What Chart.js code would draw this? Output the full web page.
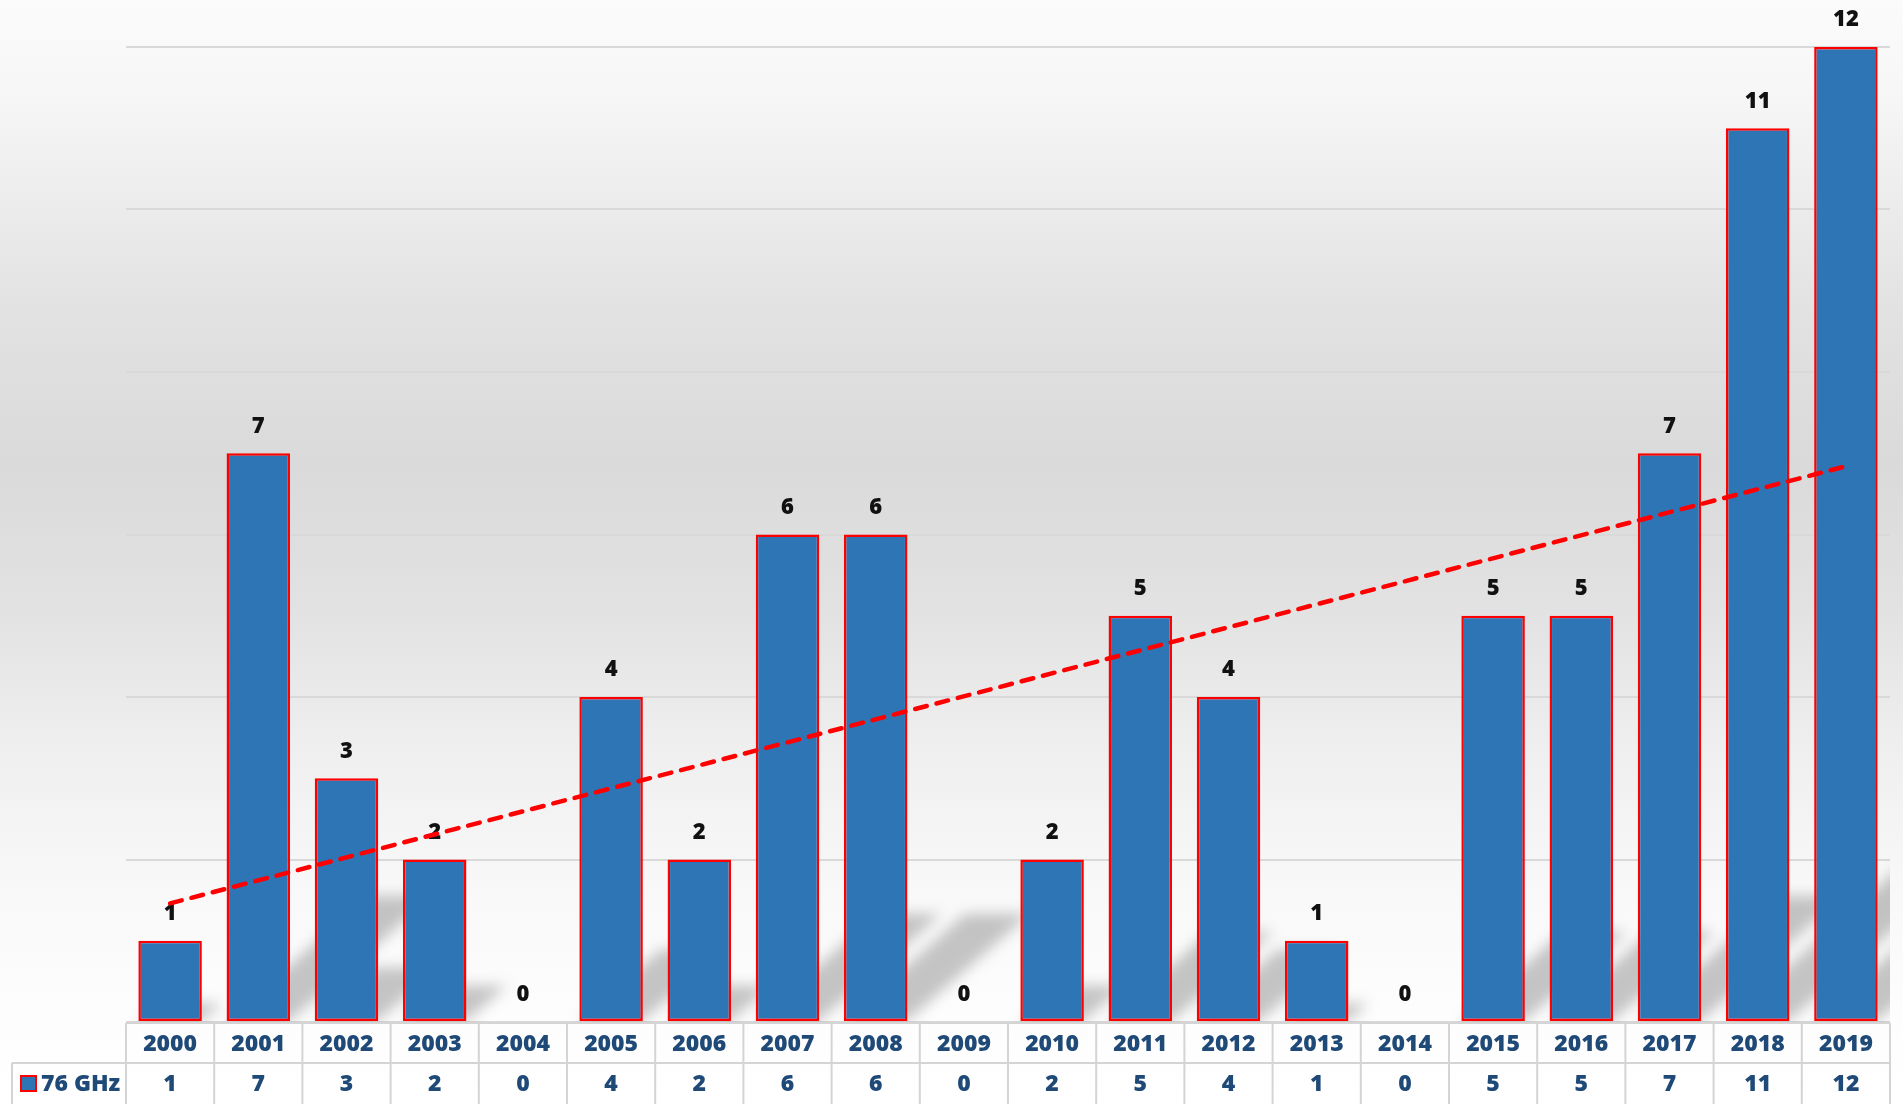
<!DOCTYPE html>
<html>
<head>
<meta charset="utf-8">
<script src="https://cdn.jsdelivr.net/npm/chart.js@4.4.1/dist/chart.umd.min.js"></script>
<style>
  html, body { margin: 0; padding: 0; background: #ffffff; overflow: hidden; }
  #wrap { width: 1903px; height: 1104px; position: relative; }
</style>
</head>
<body>
<div id="wrap"><canvas id="c" width="1903" height="1104"></canvas></div>
<script>
// ---- Data ----
const categories = ['2000','2001','2002','2003','2004','2005','2006','2007','2008','2009',
                    '2010','2011','2012','2013','2014','2015','2016','2017','2018','2019'];
const values76GHz = [1, 7, 3, 2, 0, 4, 2, 6, 6, 0, 2, 5, 4, 1, 0, 5, 5, 7, 11, 12];
const seriesName = '76 GHz';
// linear trend line: value read at the first and at the last category
const trendEnds = [1.46, 6.84];
const yMin = 0, yMax = 12, yStep = 2;

const FONT = '"Open Sans", "Liberation Sans", Arial, sans-serif';
const TABLE_COLOR = '#1F4A78';
const GRID_COLOR = '#d9d9d9';

const trendData = categories.map((c, i) =>
  i === 0 ? trendEnds[0] : (i === categories.length - 1 ? trendEnds[1] : null));

const bgPlugin = {
  id: 'bg',
  beforeDraw(chart) {
    const ctx = chart.ctx, h = chart.height, w = chart.width;
    const g = ctx.createLinearGradient(0, 0, 0, h);
    g.addColorStop(0.00, '#fbfbfb');
    g.addColorStop(0.08, '#f7f7f7');
    g.addColorStop(0.28, '#e2e2e2');
    g.addColorStop(0.42, '#dadada');
    g.addColorStop(0.55, '#e2e2e2');
    g.addColorStop(0.68, '#efefef');
    g.addColorStop(0.80, '#f8f8f8');
    g.addColorStop(0.92, '#fdfdfd');
    g.addColorStop(1.00, '#ffffff');
    ctx.save();
    ctx.fillStyle = g;
    ctx.fillRect(0, 0, w, h);
    ctx.restore();
  }
};

const shadowPlugin = {
  id: 'barShadow',
  beforeDatasetsDraw(chart) {
    const meta = chart.getDatasetMeta(1);
    if (!meta) return;
    const ctx = chart.ctx, area = chart.chartArea;
    ctx.save();
    ctx.beginPath();
    ctx.rect(area.left, 0, area.right - area.left, area.bottom);
    ctx.clip();
    ctx.filter = 'blur(7px)';
    ctx.fillStyle = 'rgba(0,0,0,0.22)';
    meta.data.forEach(el => {
      const p = el.getProps(['x', 'y', 'base', 'width'], true);
      const hgt = p.base - p.y;
      if (hgt <= 0) return;
      const x0 = p.x - p.width / 2, x1 = p.x + p.width / 2;
      const dx = hgt * 0.25, dy = hgt * 0.22;
      ctx.beginPath();
      ctx.moveTo(x0, p.base);
      ctx.lineTo(x1, p.base);
      ctx.lineTo(x1 + dx, p.base - dy);
      ctx.lineTo(x0 + dx, p.base - dy);
      ctx.closePath();
      ctx.fill();
    });
    ctx.restore();
  }
};

const labelPlugin = {
  id: 'barLabels',
  afterDatasetDraw(chart, args) {
    if (args.index !== 1) return;
    const ctx = chart.ctx;
    const meta = chart.getDatasetMeta(1);
    ctx.save();
    ctx.font = '800 22px ' + FONT;
    ctx.fillStyle = '#111111';
    ctx.textAlign = 'center';
    ctx.textBaseline = 'middle';
    meta.data.forEach((el, i) => {
      const p = el.getProps(['x', 'y'], true);
      ctx.fillText(String(values76GHz[i]), p.x, p.y - 27);
    });
    ctx.restore();
  }
};

const tablePlugin = {
  id: 'dataTable',
  afterDraw(chart) {
    const ctx = chart.ctx, xs = chart.scales.x, area = chart.chartArea;
    const n = categories.length;
    const cw = (area.right - area.left) / n;
    const top = area.bottom + 1;
    const mid = top + 40;
    const bot = chart.height + 5;
    const legendLeft = 12;
    ctx.save();
    ctx.strokeStyle = '#d4d4d4';
    ctx.lineWidth = 2;
    ctx.beginPath();
    ctx.moveTo(area.left, top); ctx.lineTo(area.right, top);
    ctx.moveTo(legendLeft, mid); ctx.lineTo(area.right, mid);
    for (let i = 0; i <= n; i++) {
      const x = area.left + i * cw;
      ctx.moveTo(x, top); ctx.lineTo(x, bot);
    }
    ctx.moveTo(legendLeft, mid); ctx.lineTo(legendLeft, bot);
    ctx.stroke();

    ctx.font = '800 23px ' + FONT;
    ctx.fillStyle = TABLE_COLOR;
    ctx.textAlign = 'center';
    ctx.textBaseline = 'middle';
    categories.forEach((c, i) => {
      const x = xs.getPixelForValue(i);
      ctx.fillText(c, x, top + 21);
      ctx.fillText(String(values76GHz[i]), x, mid + 21);
    });
    // legend key
    ctx.fillStyle = '#2E75B6';
    ctx.strokeStyle = '#FF0000';
    ctx.lineWidth = 2;
    ctx.fillRect(21, mid + 13, 15, 15);
    ctx.strokeRect(21, mid + 13, 15, 15);
    ctx.fillStyle = TABLE_COLOR;
    ctx.textAlign = 'left';
    ctx.fillText(seriesName, 41, mid + 21);
    ctx.restore();
  }
};

new Chart(document.getElementById('c'), {
  data: {
    labels: categories,
    datasets: [
      {
        type: 'line',
        label: 'Linear (' + seriesName + ')',
        data: trendData,
        spanGaps: true,
        borderColor: '#FF0000',
        borderWidth: 4.5,
        borderDash: [12, 10],
        borderCapStyle: 'round',
        pointRadius: 0,
        fill: false,
        order: 1
      },
      {
        type: 'bar',
        label: seriesName,
        data: values76GHz,
        backgroundColor: '#2E75B6',
        borderColor: '#FF0000',
        borderWidth: 2.5,
        borderSkipped: false,
        barPercentage: 0.72,
        categoryPercentage: 1.0,
        order: 2
      }
    ]
  },
  options: {
    responsive: false,
    animation: false,
    devicePixelRatio: 1,
    layout: { padding: { left: 126, right: 13, top: 47, bottom: 82 } },
    plugins: { legend: { display: false }, tooltip: { enabled: false } },
    scales: {
      x: { display: false, offset: true },
      y: {
        min: yMin, max: yMax,
        ticks: { display: false, stepSize: yStep },
        grid: { color: GRID_COLOR, lineWidth: 2, drawTicks: false },
        border: { display: false },
        afterFit(scale) { scale.width = 0; }
      }
    }
  },
  plugins: [bgPlugin, shadowPlugin, labelPlugin, tablePlugin]
});
</script>
</body>
</html>
